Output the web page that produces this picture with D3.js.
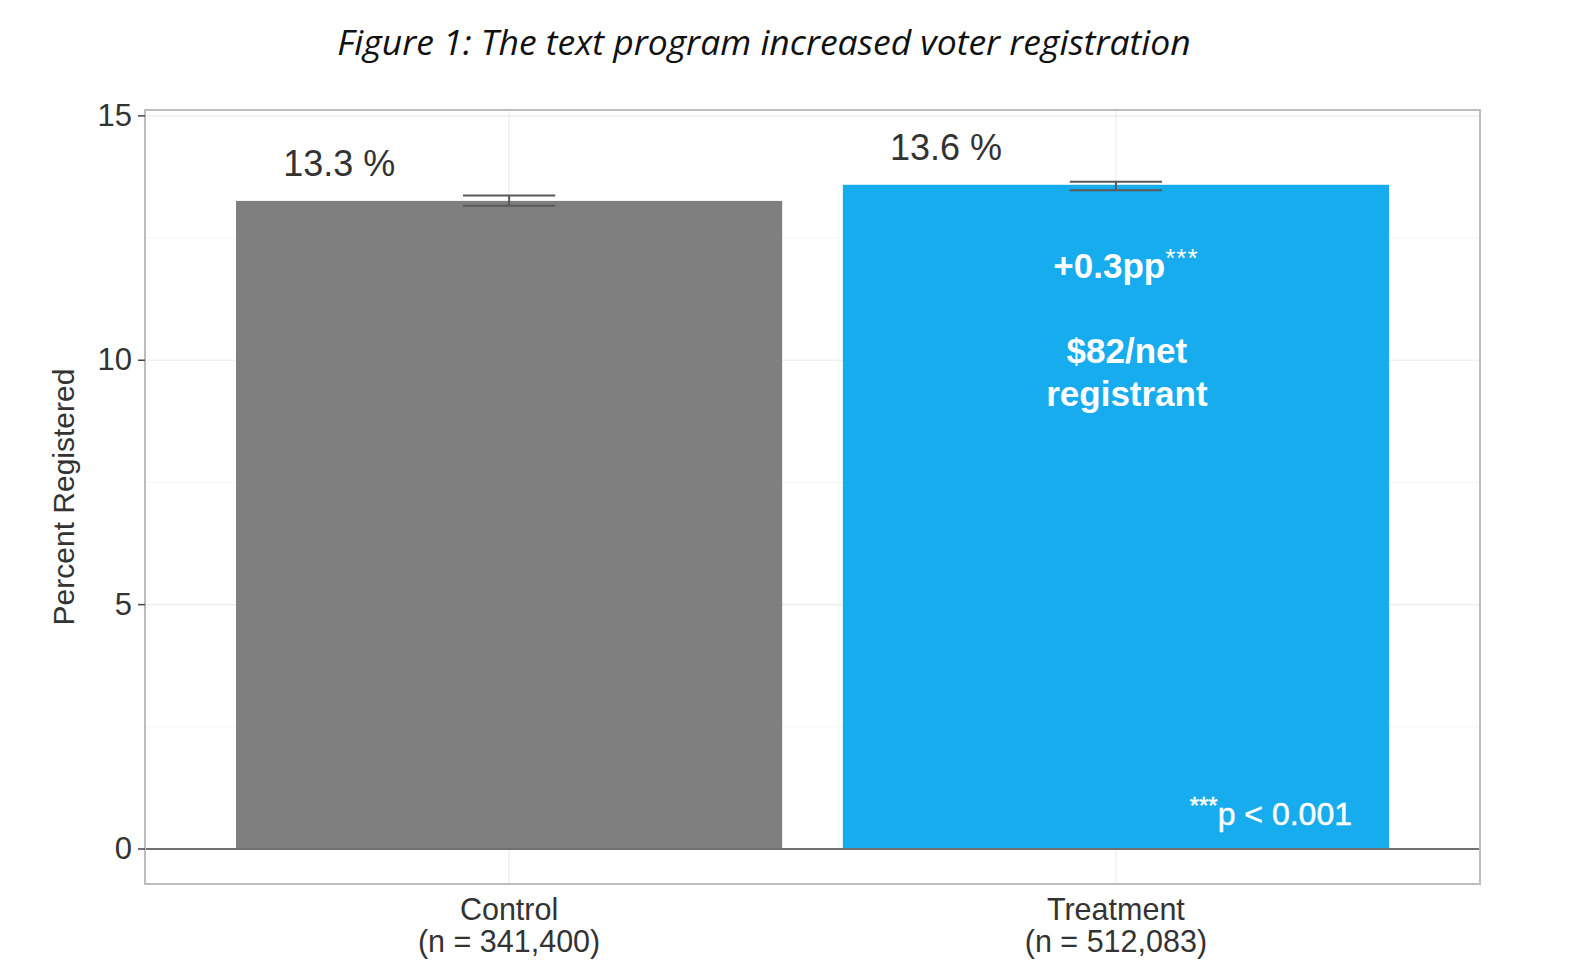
<!DOCTYPE html>
<html><head><meta charset="utf-8">
<script src="https://cdn.jsdelivr.net/npm/d3@7"></script>
<style>body{margin:0;background:#fff;} svg{display:block;}</style>
</head><body>
<script>
const categories = ["Control", "Treatment"];
const sampleSizes = ["(n = 341,400)", "(n = 512,083)"];
const percentRegistered = [13.26, 13.59];
const ciLow = [13.16, 13.48];
const ciHigh = [13.37, 13.65];
const barLabels = ["13.3 %", "13.6 %"];
const yTicks = [0, 5, 10, 15];
const yMinorTicks = [2.5, 7.5, 12.5];
const barColors = ["#7f7f7f", "#17acee"];

const W = 1572, H = 980;
const svg = d3.select("body").append("svg").attr("width", W).attr("height", H);

const P = {left: 145, right: 1480, top: 110, bottom: 884};
const y = d3.scaleLinear().domain([-0.716, 15.12]).range([P.bottom, P.top]);
const x = d3.scaleLinear().domain([0.4, 2.6]).range([P.left, P.right]);

// title
svg.append("text").attr("x", 764).attr("y", 55).attr("text-anchor", "middle")
  .attr("font-family", "Open Sans").attr("font-style", "italic").attr("font-size", 35.5)
  .attr("fill", "#111").text("Figure 1: The text program increased voter registration");

// grid
const g = svg.append("g");
g.selectAll("line.minor").data(yMinorTicks).join("line")
  .attr("x1", P.left).attr("x2", P.right).attr("y1", d => y(d)).attr("y2", d => y(d))
  .attr("stroke", "#f4f4f4").attr("stroke-width", 1);
g.selectAll("line.major").data(yTicks).join("line")
  .attr("x1", P.left).attr("x2", P.right).attr("y1", d => y(d)).attr("y2", d => y(d))
  .attr("stroke", "#ececec").attr("stroke-width", 1.2);
g.selectAll("line.vg").data(categories).join("line")
  .attr("x1", (d, i) => x(i + 1)).attr("x2", (d, i) => x(i + 1))
  .attr("y1", P.top).attr("y2", P.bottom).attr("stroke", "#ececec").attr("stroke-width", 1.2);

// bars
const bw = 0.9;
svg.selectAll("rect.bar").data(percentRegistered).join("rect")
  .attr("x", (d, i) => x(i + 1 - bw / 2)).attr("width", (d, i) => x(i + 1 + bw / 2) - x(i + 1 - bw / 2))
  .attr("y", d => y(d)).attr("height", d => y(0) - y(d))
  .attr("fill", (d, i) => barColors[i]);

// zero line
svg.append("line").attr("x1", P.left).attr("x2", P.right).attr("y1", y(0)).attr("y2", y(0))
  .attr("stroke", "#707070").attr("stroke-width", 2);

// error bars
const ew = 0.076;
percentRegistered.forEach((d, i) => {
  const cx = x(i + 1);
  const eg = svg.append("g").attr("stroke", "#5a5a5a").attr("stroke-width", 2);
  eg.append("line").attr("x1", cx).attr("x2", cx).attr("y1", y(ciHigh[i])).attr("y2", y(ciLow[i]));
  eg.append("line").attr("x1", x(i + 1 - ew)).attr("x2", x(i + 1 + ew)).attr("y1", y(ciHigh[i])).attr("y2", y(ciHigh[i]));
  eg.append("line").attr("x1", x(i + 1 - ew)).attr("x2", x(i + 1 + ew)).attr("y1", y(ciLow[i])).attr("y2", y(ciLow[i]));
});

// bar value labels
svg.selectAll("text.vl").data(percentRegistered).join("text")
  .attr("x", (d, i) => x(i + 1 - 0.28)).attr("y", d => y(d + 0.77) + 13)
  .attr("text-anchor", "middle").attr("font-family", "Liberation Sans").attr("font-size", 36)
  .attr("fill", "#333").text((d, i) => barLabels[i]);

// panel border
svg.append("rect").attr("x", P.left).attr("y", P.top).attr("width", P.right - P.left).attr("height", P.bottom - P.top)
  .attr("fill", "none").attr("stroke", "#bdbdbd").attr("stroke-width", 2);

// y axis ticks + labels
const ya = svg.append("g");
ya.selectAll("line").data(yTicks).join("line")
  .attr("x1", P.left - 7).attr("x2", P.left).attr("y1", d => y(d)).attr("y2", d => y(d))
  .attr("stroke", "#444").attr("stroke-width", 1.5);
ya.selectAll("text").data(yTicks).join("text")
  .attr("x", P.left - 13).attr("y", d => y(d) + 10).attr("text-anchor", "end")
  .attr("font-family", "Liberation Sans").attr("font-size", 31).attr("fill", "#333").text(d => d);

svg.append("text").attr("transform", `translate(74,${(P.top + P.bottom) / 2}) rotate(-90)`)
  .attr("text-anchor", "middle").attr("font-family", "Liberation Sans").attr("font-size", 30)
  .attr("fill", "#333").text("Percent Registered");

// x labels
categories.forEach((c, i) => {
  svg.append("text").attr("x", x(i + 1)).attr("y", 920).attr("text-anchor", "middle")
    .attr("font-family", "Liberation Sans").attr("font-size", 30.5).attr("fill", "#333").text(c);
  svg.append("text").attr("x", x(i + 1)).attr("y", 952).attr("text-anchor", "middle")
    .attr("font-family", "Liberation Sans").attr("font-size", 30.5).attr("fill", "#333").text(sampleSizes[i]);
});

// annotations in treatment bar
const ann = svg.append("g").attr("font-family", "Liberation Sans").attr("font-weight", "bold")
  .attr("fill", "#fff").attr("text-anchor", "middle");
const t1 = ann.append("text").attr("x", x(2) + 10).attr("y", 278).attr("font-size", 35);
t1.append("tspan").text("+0.3pp");
t1.append("tspan").attr("font-size", 26).attr("font-weight", "normal").attr("dy", -11).attr("letter-spacing", 1).text("***");
ann.append("text").attr("x", x(2) + 11).attr("y", 363).attr("font-size", 35).text("$82/net");
ann.append("text").attr("x", x(2) + 11).attr("y", 406).attr("font-size", 35).text("registrant");
const t4 = svg.append("text").attr("x", 1352).attr("y", 825).attr("text-anchor", "end")
  .attr("font-family", "Liberation Sans").attr("font-size", 32).attr("fill", "#fff")
  .attr("stroke", "#fff").attr("stroke-width", 0.5);
t4.append("tspan").attr("font-size", 24).attr("dy", -11).text("***");
t4.append("tspan").attr("dy", 11).text("p < 0.001");
</script>
</body></html>
